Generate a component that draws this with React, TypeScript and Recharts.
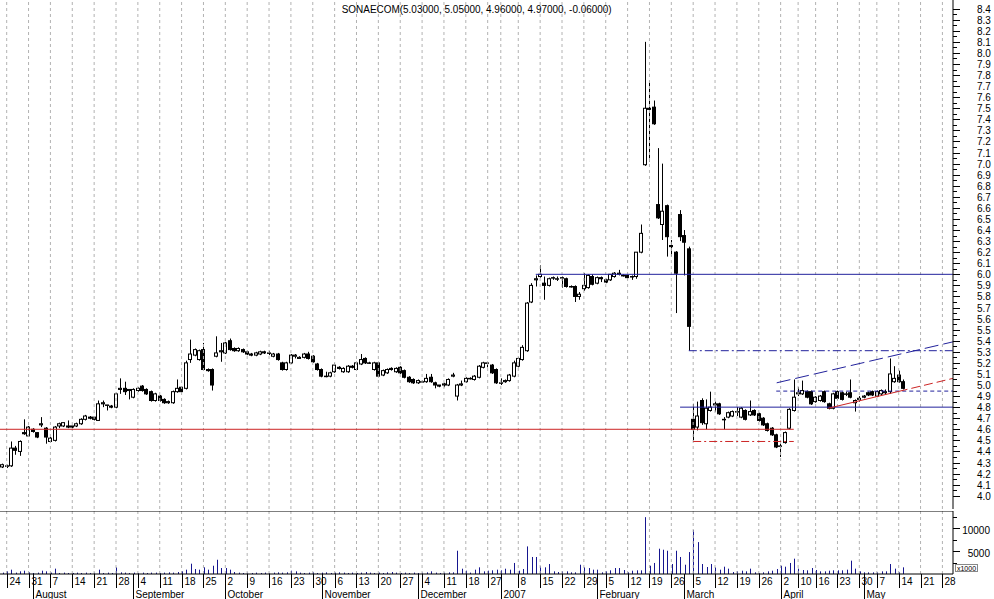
import React from "react";
import { Bar, ComposedChart, ReferenceLine, XAxis, YAxis } from "recharts";

const FONT = '"Liberation Sans", Arial, sans-serif';
const RED = "#cc2424";
const BLUE = "#22229c";
const VOL_COLOR = "#16168f";
const GRID = "#b2b2b2";

const TITLE = "SONAECOM(5.03000, 5.05000, 4.96000, 4.97000, -0.06000)";

// trading-day index range shown (0 = Mon 24 Jul 2006)
const X_MIN = -1.53;
const X_MAX = 216.42;
const PRICE_MIN = 3.88;
const PRICE_MAX = 8.478;
const VOL_MAX = 13700;

const FIRST_INDEX = -1; // Fri 21 Jul 2006

// open, high, low, close per trading day
const OHLC: number[][] = [
  [4.26, 4.29, 4.25, 4.28],
  // Jul 24
  [4.27, 4.28, 4.25, 4.27], [4.27, 4.49, 4.26, 4.43], [4.43, 4.45, 4.37, 4.41], [4.40, 4.50, 4.36, 4.49], [4.57, 4.69, 4.55, 4.56],
  // Jul 31
  [4.54, 4.63, 4.53, 4.62], [4.60, 4.61, 4.57, 4.58], [4.57, 4.57, 4.52, 4.53], [4.64, 4.71, 4.62, 4.65], [4.61, 4.62, 4.47, 4.53],
  // Aug 7
  [4.49, 4.53, 4.48, 4.52], [4.50, 4.63, 4.49, 4.62], [4.63, 4.66, 4.61, 4.65], [4.63, 4.66, 4.62, 4.66], [4.63, 4.68, 4.61, 4.62],
  // Aug 14
  [4.63, 4.63, 4.61, 4.62], [4.63, 4.66, 4.62, 4.65], [4.65, 4.70, 4.64, 4.69], [4.69, 4.73, 4.68, 4.72], [4.71, 4.72, 4.69, 4.70],
  // Aug 21
  [4.71, 4.71, 4.68, 4.69], [4.68, 4.86, 4.68, 4.83], [4.83, 4.86, 4.80, 4.84], [4.82, 4.82, 4.77, 4.82], [4.81, 4.82, 4.79, 4.80],
  // Aug 28
  [4.80, 4.93, 4.79, 4.92], [4.96, 5.06, 4.92, 4.97], [4.97, 5.03, 4.91, 4.94], [4.95, 4.96, 4.87, 4.96], [4.89, 4.97, 4.88, 4.96],
  // Sep 4
  [4.95, 4.98, 4.94, 4.97], [4.99, 5.00, 4.94, 4.95], [4.96, 4.97, 4.91, 4.92], [4.94, 4.95, 4.85, 4.86], [4.86, 4.93, 4.85, 4.92],
  // Sep 11
  [4.90, 4.91, 4.85, 4.86], [4.87, 4.88, 4.83, 4.84], [4.84, 4.86, 4.83, 4.85], [4.84, 4.95, 4.83, 4.94], [4.94, 5.05, 4.93, 4.97],
  // Sep 18
  [4.98, 4.99, 4.93, 4.94], [4.97, 5.22, 4.96, 5.20], [5.23, 5.41, 5.20, 5.28], [5.27, 5.33, 5.26, 5.32], [5.23, 5.32, 5.22, 5.31],
  // Sep 25
  [5.32, 5.38, 5.13, 5.14], [5.14, 5.15, 5.12, 5.13], [5.14, 5.15, 4.95, 5.00], [5.26, 5.44, 5.25, 5.29], [5.30, 5.38, 5.21, 5.31],
  // Oct 2
  [5.29, 5.39, 5.28, 5.38], [5.40, 5.42, 5.31, 5.32], [5.33, 5.34, 5.30, 5.31], [5.31, 5.34, 5.30, 5.33], [5.32, 5.33, 5.29, 5.30],
  // Oct 9
  [5.30, 5.31, 5.27, 5.28], [5.28, 5.29, 5.26, 5.27], [5.27, 5.30, 5.26, 5.29], [5.28, 5.31, 5.27, 5.30], [5.30, 5.31, 5.28, 5.29],
  // Oct 16
  [5.29, 5.31, 5.27, 5.29], [5.26, 5.29, 5.25, 5.28], [5.28, 5.29, 5.22, 5.23], [5.20, 5.21, 5.13, 5.14], [5.14, 5.21, 5.13, 5.20],
  // Oct 23
  [5.20, 5.28, 5.19, 5.27], [5.26, 5.28, 5.24, 5.27], [5.24, 5.26, 5.24, 5.25], [5.25, 5.29, 5.24, 5.28], [5.28, 5.30, 5.23, 5.24],
  // Oct 30
  [5.26, 5.27, 5.20, 5.21], [5.19, 5.20, 5.13, 5.14], [5.14, 5.15, 5.07, 5.08], [5.08, 5.12, 5.07, 5.08], [5.08, 5.12, 5.07, 5.11],
  // Nov 6
  [5.12, 5.20, 5.11, 5.18], [5.16, 5.17, 5.14, 5.15], [5.12, 5.16, 5.11, 5.15], [5.12, 5.18, 5.11, 5.17], [5.17, 5.18, 5.15, 5.16],
  // Nov 13
  [5.14, 5.21, 5.13, 5.20], [5.19, 5.28, 5.18, 5.23], [5.24, 5.25, 5.19, 5.20], [5.20, 5.21, 5.19, 5.20], [5.14, 5.21, 5.13, 5.20],
  // Nov 20
  [5.20, 5.21, 5.07, 5.08], [5.09, 5.14, 5.08, 5.13], [5.11, 5.15, 5.10, 5.14], [5.15, 5.16, 5.13, 5.14], [5.12, 5.16, 5.11, 5.15],
  // Nov 27
  [5.16, 5.17, 5.10, 5.11], [5.13, 5.14, 5.06, 5.07], [5.07, 5.08, 5.02, 5.03], [5.05, 5.06, 5.01, 5.02], [5.02, 5.05, 5.01, 5.04],
  // Dec 4
  [5.03, 5.04, 5.02, 5.03], [5.03, 5.10, 5.02, 5.06], [5.07, 5.10, 5.02, 5.03], [5.02, 5.03, 4.97, 5.00], [5.00, 5.00, 4.98, 4.99],
  // Dec 11
  [5.00, 5.02, 4.98, 5.01], [5.00, 5.06, 4.99, 5.05], [5.08, 5.11, 5.07, 5.09], [4.90, 5.01, 4.86, 5.00], [5.00, 5.04, 4.99, 5.01],
  // Dec 18
  [5.03, 5.07, 5.02, 5.06], [5.06, 5.07, 5.05, 5.06], [5.05, 5.09, 5.04, 5.08], [5.07, 5.18, 5.06, 5.17], [5.16, 5.21, 5.15, 5.20],
  // Dec 27
  [5.20, 5.21, 5.16, 5.20], [5.18, 5.19, 5.10, 5.11], [5.14, 5.15, 5.01, 5.02],
  // Jan 2
  [5.02, 5.06, 5.00, 5.02], [5.03, 5.05, 5.02, 5.04], [5.04, 5.10, 5.03, 5.09], [5.08, 5.22, 5.07, 5.20],
  // Jan 8
  [5.17, 5.25, 5.16, 5.24], [5.23, 5.36, 5.22, 5.34], [5.31, 5.75, 5.30, 5.74], [5.75, 5.92, 5.74, 5.90], [5.95, 5.99, 5.89, 5.96],
  // Jan 15
  [5.98, 6.08, 5.97, 6.00], [5.92, 5.98, 5.77, 5.90], [5.90, 5.97, 5.89, 5.96], [5.97, 5.98, 5.95, 5.97], [5.96, 5.98, 5.94, 5.96],
  // Jan 22
  [5.97, 5.98, 5.88, 5.97], [5.96, 5.97, 5.88, 5.89], [5.89, 5.90, 5.88, 5.89], [5.89, 5.90, 5.75, 5.80], [5.80, 5.84, 5.77, 5.82],
  // Jan 29
  [5.87, 6.01, 5.85, 5.90], [5.88, 6.00, 5.87, 5.99], [5.98, 6.00, 5.90, 5.91], [5.92, 5.98, 5.91, 5.97], [5.97, 5.98, 5.93, 5.96],
  // Feb 5
  [5.95, 5.96, 5.92, 5.93], [5.95, 6.00, 5.94, 6.00], [5.98, 6.02, 5.97, 6.01], [6.00, 6.04, 5.99, 6.01], [5.99, 6.00, 5.98, 5.99],
  // Feb 12
  [5.99, 6.00, 5.96, 5.97], [5.98, 5.99, 5.95, 5.98], [5.98, 6.20, 5.96, 6.20], [6.20, 6.45, 6.19, 6.37], [6.99, 8.10, 6.98, 7.50],
  // Feb 19
  [7.50, 7.75, 7.02, 7.49], [7.51, 7.57, 7.35, 7.36], [6.63, 7.14, 6.50, 6.51], [6.45, 7.00, 6.31, 6.57], [6.62, 6.63, 6.16, 6.34],
  // Feb 26
  [6.26, 6.31, 6.16, 6.25], [6.20, 6.21, 5.65, 6.01], [6.54, 6.58, 6.30, 6.34], [6.35, 6.40, 5.99, 6.29], [6.23, 6.25, 5.31, 5.53],
  // Mar 5
  [4.69, 4.83, 4.50, 4.60], [4.62, 4.85, 4.59, 4.72], [4.86, 4.88, 4.64, 4.66], [4.65, 4.87, 4.60, 4.79], [4.77, 4.94, 4.76, 4.80],
  // Mar 12
  [4.82, 4.85, 4.76, 4.83], [4.83, 4.84, 4.73, 4.74], [4.69, 4.71, 4.60, 4.69], [4.71, 4.76, 4.70, 4.75], [4.72, 4.77, 4.71, 4.76],
  // Mar 19
  [4.76, 4.80, 4.72, 4.76], [4.71, 4.80, 4.70, 4.79], [4.77, 4.78, 4.68, 4.69], [4.73, 4.86, 4.72, 4.76], [4.77, 4.78, 4.72, 4.73],
  // Mar 26
  [4.74, 4.75, 4.67, 4.68], [4.70, 4.71, 4.63, 4.64], [4.65, 4.66, 4.58, 4.59], [4.61, 4.62, 4.54, 4.55], [4.55, 4.56, 4.43, 4.44],
  // Apr 2
  [4.45, 4.47, 4.35, 4.45], [4.48, 4.58, 4.47, 4.57], [4.61, 4.79, 4.60, 4.78], [4.77, 5.05, 4.76, 4.89],
  // Apr 10
  [4.92, 4.98, 4.90, 4.93], [4.92, 5.04, 4.91, 4.95], [4.94, 4.95, 4.88, 4.89], [4.94, 4.95, 4.82, 4.83],
  // Apr 16
  [4.85, 4.90, 4.84, 4.89], [4.86, 4.91, 4.85, 4.90], [4.94, 4.95, 4.84, 4.85], [4.83, 4.84, 4.78, 4.79], [4.79, 4.93, 4.78, 4.92],
  // Apr 23
  [4.94, 4.95, 4.87, 4.88], [4.93, 4.94, 4.86, 4.87], [4.92, 4.94, 4.90, 4.92], [4.93, 5.05, 4.88, 4.89], [4.84, 4.87, 4.76, 4.86],
  // Apr 30
  [4.87, 4.90, 4.85, 4.88], [4.89, 4.91, 4.88, 4.90], [4.93, 4.94, 4.90, 4.91], [4.94, 4.95, 4.90, 4.91],
  // May 7
  [4.90, 4.95, 4.89, 4.94], [4.92, 4.96, 4.91, 4.95], [4.93, 4.96, 4.91, 4.94], [4.94, 5.24, 4.92, 5.10], [5.03, 5.17, 5.02, 5.06],
  // May 14
  [5.09, 5.13, 5.02, 5.03], [5.03, 5.05, 4.96, 4.97],
];

// volume (shares) per trading day, same order as OHLC
const VOLUME: number[] = [
  300,
  580, 940, 300, 580, 720,
  360, 220, 300, 720, 580,
  300, 1160, 220, 300, 220,
  220, 300, 220, 300, 220,
  300, 940, 220, 300, 220,
  1450, 360, 300, 220, 300,
  220, 300, 220, 300, 300,
  220, 300, 360, 300, 430,
  580, 940, 2240, 1080, 940,
  1450, 940, 1800, 3100, 1300,
  1300, 940, 430, 300, 220,
  300, 220, 300, 220, 300,
  220, 300, 360, 300, 360,
  720, 580, 300, 220, 300,
  360, 220, 300, 360, 220,
  300, 360, 300, 220, 300,
  220, 300, 430, 300, 220,
  300, 220, 360, 430, 300,
  220, 300, 220, 300, 220,
  300, 360, 580, 300, 220,
  300, 360, 360, 5060, 1150,
  720, 300, 940, 1450, 580,
  720, 800, 940,
  800, 1150, 940, 2400,
  720, 1080, 6000, 3700, 3700,
  1660, 1450, 2170, 580, 430,
  580, 580, 360, 360, 2020,
  1450, 1300, 940, 940, 360,
  580, 800, 1300, 1300, 870,
  360, 720, 800, 800, 12360,
  1800, 2400, 5500, 5280, 5060,
  2170, 5060, 3700, 2020, 4770,
  9600, 6940, 2170, 1520, 2170,
  1450, 940, 1590, 1160, 430,
  580, 720, 580, 1160, 360,
  220, 360, 580, 720, 1080,
  1800, 1590, 2400, 3330,
  1160, 870, 800, 1300,
  870, 580, 580, 720, 800,
  800, 800, 940, 2900, 1160,
  580, 360, 360, 360,
  360, 580, 580, 2170, 1160,
  360, 1450,
];

// first trading day of each week
const WEEK_INDEX = [0, 5, 10, 15, 20, 25, 30, 35, 40, 45, 50, 55, 60, 65, 70, 75, 80, 85, 90, 95, 100, 105, 110, 113, 117, 122, 127, 132, 137, 142, 147, 152, 157, 162, 167, 172, 177, 181, 185, 190, 195, 199, 204, 209, 214];
const WEEK_LABELS = ["24", "31", "7", "14", "21", "28", "4", "11", "18", "25", "2", "9", "16", "23", "30", "6", "13", "20", "27", "4", "11", "18", "27", "", "8", "15", "22", "29", "5", "12", "19", "26", "5", "12", "19", "26", "2", "10", "16", "23", "30", "7", "14", "21", "28"];

// first trading day of each month
const MONTH_INDEX = [6, 29, 50, 72, 94, 113, 135, 155, 177, 196];
const MONTH_LABELS = ["August", "September", "October", "November", "December", "2007", "February", "March", "April", "May"];

const PRICE_LABELS = [4.0, 4.1, 4.2, 4.3, 4.4, 4.5, 4.6, 4.7, 4.8, 4.9, 5.0, 5.1, 5.2, 5.3, 5.4, 5.5, 5.6, 5.7, 5.8, 5.9, 6.0, 6.1, 6.2, 6.3, 6.4, 6.5, 6.6, 6.7, 6.8, 6.9, 7.0, 7.1, 7.2, 7.3, 7.4, 7.5, 7.6, 7.7, 7.8, 7.9, 8.0, 8.1, 8.2, 8.3, 8.4];
const VOL_LABELS = [5000, 10000];
const VOL_MINOR = [2500, 7500, 12500];

// drawn lines: [[x1, y1], [x2, y2]] in trading-day index / price
const RED_SUPPORT = [[X_MIN, 4.6], [180, 4.6]];
const RED_LOW = [[157, 4.49], [180, 4.49]];
const BLUE_TOP = [[121, 6.0], [X_MAX, 6.0]];
const BLUE_GAP = [[156, 5.31], [X_MAX, 5.31]];
const BLUE_FLOOR = [[154, 4.8], [X_MAX, 4.8]];
const BLUE_MID = [[176, 4.945], [X_MAX, 4.945]];
const BLUE_CHANNEL = [[176.1, 5.02], [X_MAX, 5.39]];
const RED_CHANNEL = [[187.9, 4.79], [X_MAX, 5.06]];
const RED_CHANNEL_SPLIT = 204;

const data = OHLC.map((q, n) => ({
  i: FIRST_INDEX + n,
  o: q[0],
  h: q[1],
  l: q[2],
  c: q[3],
  v: VOLUME[n],
}));

const priceTicks = [...PRICE_LABELS, ...PRICE_LABELS.slice(0, -1).map((t) => t + 0.05)].sort((a, b) => a - b);
const dateTicks = Array.from(new Set([...WEEK_INDEX, ...MONTH_INDEX])).sort((a, b) => a - b);

const redSplitY =
  RED_CHANNEL[0][1] +
  ((RED_CHANNEL[1][1] - RED_CHANNEL[0][1]) * (RED_CHANNEL_SPLIT - RED_CHANNEL[0][0])) / (RED_CHANNEL[1][0] - RED_CHANNEL[0][0]);

function Candle(props: any) {
  const { x, y, width, height, payload } = props;
  if (payload == null || payload.h == null || !(height > 0)) return null;
  const k = height / (payload.h - PRICE_MIN);
  const yOf = (v: number) => y + (payload.h - v) * k;
  const cx = Math.round(x + width / 2) + 0.5;
  const up = payload.c >= payload.o;
  const top = yOf(Math.max(payload.o, payload.c));
  const bot = yOf(Math.min(payload.o, payload.c));
  return (
    <g>
      <line x1={cx} x2={cx} y1={yOf(payload.h)} y2={yOf(payload.l)} stroke="#000" strokeWidth={1} />
      <rect
        x={cx - 2}
        y={top}
        width={3}
        height={Math.max(bot - top, 0.5)}
        fill={up ? "#fff" : "#000"}
        stroke="#000"
        strokeWidth={1}
      />
    </g>
  );
}

function VolumeBar(props: any) {
  const { x, y, width, height } = props;
  if (!(height > 0)) return null;
  return <rect x={Math.round(x + width / 2)} y={y} width={1} height={height} fill={VOL_COLOR} />;
}

function PriceTick(props: any) {
  const { x, y, payload } = props;
  const v = payload.value as number;
  const major = Math.abs(v * 10 - Math.round(v * 10)) < 1e-6;
  const py = Math.round(y) + 0.5;
  return (
    <g>
      <line x1={x} x2={x + (major ? 7 : 4)} y1={py} y2={py} stroke="#000" />
      {major && (
        <text x={x + 24} y={y + 4} fontSize={10} fontFamily={FONT} fill="#000">
          {v.toFixed(1)}
        </text>
      )}
    </g>
  );
}

function VolumeTick(props: any) {
  const { x, y, payload } = props;
  const v = payload.value as number;
  const major = VOL_LABELS.includes(v);
  const py = Math.round(y) + 0.5;
  return (
    <g>
      <line x1={x} x2={x + (major ? 7 : 4)} y1={py} y2={py} stroke="#000" />
      {major && (
        <text x={x + 37} y={y + 5.5} fontSize={10} fontFamily={FONT} fill="#000" textAnchor="end">
          {v}
        </text>
      )}
    </g>
  );
}

function DateTick(props: any) {
  const { x, y, payload } = props;
  const v = payload.value as number;
  const w = WEEK_INDEX.indexOf(v);
  const m = MONTH_INDEX.indexOf(v);
  const px = Math.round(x) + 0.5;
  return (
    <g>
      {w >= 0 && <line x1={px} x2={px} y1={y} y2={y + 14} stroke="#000" />}
      {w >= 0 && WEEK_LABELS[w] !== "" && (
        <text x={px + 2} y={y + 11} fontSize={10} fontFamily={FONT} fill="#000">
          {WEEK_LABELS[w]}
        </text>
      )}
      {m >= 0 && <line x1={px} x2={px} y1={y} y2={y + 25} stroke="#000" />}
      {m >= 0 && (
        <text x={px + 2} y={y + 23.5} fontSize={10} fontFamily={FONT} fill="#000">
          {MONTH_LABELS[m]}
        </text>
      )}
    </g>
  );
}

function segment(line: number[][]) {
  return [
    { x: line[0][0], y: line[0][1] },
    { x: line[1][0], y: line[1][1] },
  ];
}

export default function App() {
  return (
    <div style={{ position: "absolute", left: 0, top: 0, width: 994, height: 599, background: "#fff", overflow: "hidden" }}>
      <div style={{ position: "absolute", left: 0, top: 0 }}>
        <ComposedChart width={994} height={509} data={data} margin={{ top: 0, right: 0, bottom: 0, left: 0 }}>
          <XAxis dataKey="i" type="number" domain={[X_MIN, X_MAX]} allowDataOverflow hide />
          <YAxis
            orientation="right"
            width={41}
            type="number"
            domain={[PRICE_MIN, PRICE_MAX]}
            allowDataOverflow
            ticks={priceTicks}
            interval={0}
            tickLine={false}
            tickSize={0}
            tickMargin={0}
            axisLine={{ stroke: "#000" }}
            tick={<PriceTick />}
          />
          {WEEK_INDEX.map((t) => (
            <ReferenceLine key={"g" + t} x={t} stroke={GRID} strokeDasharray="3 3" />
          ))}
          <ReferenceLine segment={segment(RED_SUPPORT)} stroke={RED} strokeWidth={1} />
          <ReferenceLine segment={segment(RED_LOW)} stroke={RED} strokeDasharray="8 3 2 3" />
          <ReferenceLine segment={segment(BLUE_TOP)} stroke={BLUE} />
          <ReferenceLine segment={segment(BLUE_GAP)} stroke={BLUE} strokeDasharray="8 3 2 3" />
          <ReferenceLine segment={segment(BLUE_FLOOR)} stroke={BLUE} />
          <ReferenceLine segment={segment(BLUE_MID)} stroke={BLUE} strokeDasharray="4 3" />
          <ReferenceLine segment={segment(BLUE_CHANNEL)} stroke={BLUE} strokeDasharray="14 5" />
          <ReferenceLine
            segment={[
              { x: RED_CHANNEL[0][0], y: RED_CHANNEL[0][1] },
              { x: RED_CHANNEL_SPLIT, y: redSplitY },
            ]}
            stroke={RED}
          />
          <ReferenceLine
            segment={[
              { x: RED_CHANNEL_SPLIT, y: redSplitY },
              { x: RED_CHANNEL[1][0], y: RED_CHANNEL[1][1] },
            ]}
            stroke={RED}
            strokeDasharray="9 4"
          />
          <Bar dataKey={(d: any) => [PRICE_MIN, d.h]} barSize={4} shape={<Candle />} isAnimationActive={false} />
        </ComposedChart>
      </div>
      <div style={{ position: "absolute", left: 0, top: 511 }}>
        <ComposedChart width={994} height={88} data={data} margin={{ top: 0, right: 0, bottom: 0, left: 0 }}>
          <XAxis
            dataKey="i"
            type="number"
            domain={[X_MIN, X_MAX]}
            allowDataOverflow
            ticks={dateTicks}
            interval={0}
            height={25}
            tickLine={false}
            tickSize={0}
            tickMargin={0}
            axisLine={{ stroke: "#000" }}
            tick={<DateTick />}
          />
          <YAxis
            orientation="right"
            width={41}
            type="number"
            domain={[0, VOL_MAX]}
            allowDataOverflow
            ticks={[...VOL_MINOR, ...VOL_LABELS].sort((a, b) => a - b)}
            interval={0}
            tickLine={false}
            tickSize={0}
            tickMargin={0}
            axisLine={{ stroke: "#000" }}
            tick={<VolumeTick />}
          />
          {WEEK_INDEX.map((t) => (
            <ReferenceLine key={"v" + t} x={t} stroke={GRID} strokeDasharray="3 3" />
          ))}
          <ReferenceLine y={VOL_MAX} stroke="#000" />
          <Bar dataKey="v" barSize={1} shape={<VolumeBar />} isAnimationActive={false} />
        </ComposedChart>
      </div>
      <svg style={{ position: "absolute", left: 0, top: 0 }} width={994} height={20}>
        <text x={341.7} y={12.5} fontSize={10} fontFamily={FONT} fill="#000" textLength={270} lengthAdjust="spacingAndGlyphs">
          {TITLE}
        </text>
      </svg>
      <div
        style={{
          position: "absolute",
          left: 955,
          top: 564,
          width: 23,
          height: 8,
          border: "1px solid #888",
          fontSize: 7,
          lineHeight: "8px",
          fontFamily: FONT,
          textAlign: "center",
          color: "#000",
          boxSizing: "border-box",
        }}
      >
        x1000
      </div>
    </div>
  );
}
